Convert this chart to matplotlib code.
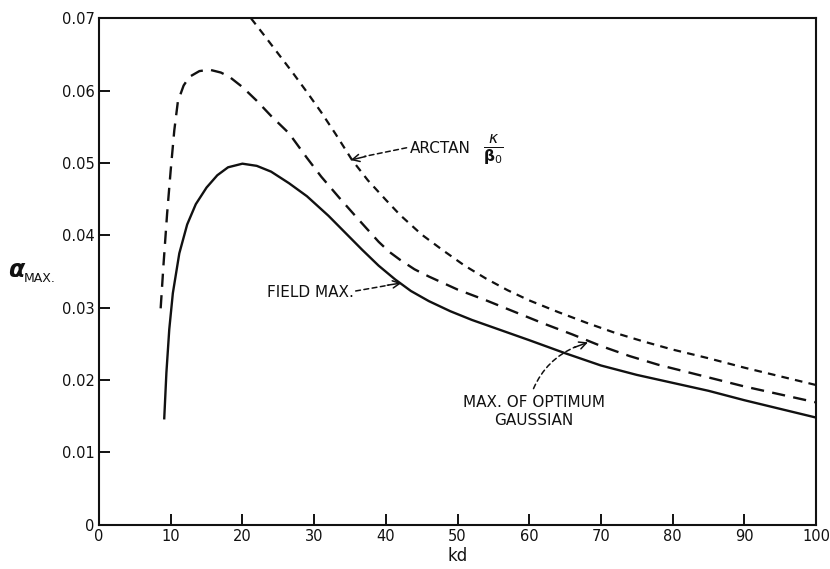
import matplotlib
matplotlib.use("Agg")
import matplotlib.pyplot as plt

# values
FIELD_KD = [9.1, 9.4, 9.8, 10.3, 11.2, 12.3, 13.5, 15.0, 16.5, 18.0, 20.0, 22.0,
            24.0, 26.5, 29.0, 32.0, 34.5, 36.7, 39.0, 41.3, 43.5, 46.0, 49.0,
            52.0, 56.0, 60.0, 65.0, 70.0, 75.0, 80.0, 85.0, 90.0, 95.0, 100.0]
FIELD_ALPHA = [0.0147, 0.0210, 0.0270, 0.0320, 0.0375, 0.0415, 0.0443, 0.0466,
               0.0483, 0.0494, 0.0499, 0.0496, 0.0488, 0.0472, 0.0454, 0.0427,
               0.0402, 0.0380, 0.0358, 0.0339, 0.0323, 0.0309, 0.0295, 0.0283,
               0.0269, 0.0255, 0.0237, 0.0220, 0.0207, 0.0196, 0.0185, 0.0172,
               0.0160, 0.0148]

GAUSS_KD = [8.6, 9.0, 9.5, 10.0, 10.5, 11.0, 11.8, 12.6, 14.0, 15.4, 17.0, 18.2,
            20.0, 22.0, 24.0, 26.5, 29.0, 31.0, 33.5, 36.0, 39.0, 40.5, 42.0,
            44.0, 46.0, 50.0, 54.0, 58.0, 62.0, 66.0, 70.0, 74.0, 78.0, 82.0,
            86.0, 90.0, 95.0, 100.0]
GAUSS_ALPHA = [0.0299, 0.0360, 0.0430, 0.0490, 0.0545, 0.0585, 0.0607, 0.0619,
               0.0627, 0.0629, 0.0625, 0.0619, 0.0605, 0.0586, 0.0565, 0.0541,
               0.0507, 0.0481, 0.0452, 0.0424, 0.0391, 0.0377, 0.0366, 0.0353,
               0.0343, 0.0325, 0.0310, 0.0294, 0.0278, 0.0263, 0.0247, 0.0233,
               0.0221, 0.0211, 0.0201, 0.0191, 0.0180, 0.0169]

ARCTAN_KD = [21.2, 23.0, 25.0, 27.0, 29.0, 31.0, 33.0, 35.3, 37.5, 40.0, 42.0,
             45.0, 48.0, 51.0, 54.0, 57.0, 60.0, 64.0, 68.0, 72.0, 76.0, 80.0,
             85.0, 90.0, 95.0, 100.0]
ARCTAN_ALPHA = [0.0700, 0.0677, 0.0651, 0.0625, 0.0598, 0.0570, 0.0540, 0.0504,
                0.0476, 0.0449, 0.0428, 0.0401, 0.0379, 0.0358, 0.0340, 0.0324,
                0.0310, 0.0294, 0.0279, 0.0265, 0.0253, 0.0242, 0.0230, 0.0217,
                0.0205, 0.0193]

X_TICKS = [0, 10, 20, 30, 40, 50, 60, 70, 80, 90, 100]
Y_TICKS = [0, 0.01, 0.02, 0.03, 0.04, 0.05, 0.06, 0.07]
Y_TICK_LABELS = ["0", "0.01", "0.02", "0.03", "0.04", "0.05", "0.06", "0.07"]

plt.rcParams["font.family"] = "DejaVu Sans"
plt.rcParams["lines.scale_dashes"] = False

fig = plt.figure(figsize=(8.3, 5.69), dpi=100)
ax = fig.add_axes([99 / 830, 44.4 / 569, 717 / 830, 506.3 / 569])

ink = "#111111"
ax.plot(FIELD_KD, FIELD_ALPHA, color=ink, lw=1.7)
ax.plot(GAUSS_KD, GAUSS_ALPHA, color=ink, lw=1.7, dashes=(9.5, 6))
ax.plot(ARCTAN_KD, ARCTAN_ALPHA, color=ink, lw=1.6, dashes=(5.5, 4.5))

ax.set_xlim(0, 100)
ax.set_ylim(0, 0.07)
ax.set_xticks(X_TICKS)
ax.set_yticks(Y_TICKS)
ax.set_yticklabels(Y_TICK_LABELS)
ax.tick_params(direction="in", length=8, width=1.4, labelsize=10.5,
               colors=ink, pad=3)
for sp in ax.spines.values():
    sp.set_linewidth(1.5)
    sp.set_color(ink)

ax.set_xlabel("kd", fontsize=12, color=ink, labelpad=2)

# y label: alpha with MAX. subscript
fig.text(8 / 830, 1 - 270 / 569, "α", fontsize=17, fontweight="bold",
         fontstyle="italic", color=ink, va="center", ha="left")
fig.text(24 / 830, 1 - 279 / 569, "MAX.", fontsize=9, color=ink,
         va="center", ha="left")

dash_arrow = dict(arrowstyle="-", lw=1.1, color=ink, linestyle=(0, (3.5, 2.5)),
                  shrinkA=0, shrinkB=0)
head = dict(arrowstyle="->", lw=1.1, color=ink, shrinkA=0, shrinkB=0,
            mutation_scale=13)

# ARCTAN label
ax.text(43.4, 0.0520, "ARCTAN", fontsize=11, color=ink, va="center", ha="left")
ax.text(55.0, 0.0519, r"$\frac{\kappa}{\mathbf{\beta}_0}$", fontsize=16,
        color=ink, va="center", ha="center")
ax.annotate("", xy=(37.0, 0.0509), xytext=(42.9, 0.0521), arrowprops=dash_arrow)
ax.annotate("", xy=(35.1, 0.0504), xytext=(37.2, 0.0509), arrowprops=head)

# FIELD MAX. label
ax.text(35.6, 0.0321, "FIELD MAX.", fontsize=11, color=ink,
        va="center", ha="right")
ax.annotate("", xy=(40.4, 0.0331), xytext=(35.8, 0.0323), arrowprops=dash_arrow)
ax.annotate("", xy=(42.2, 0.0334), xytext=(40.2, 0.0331), arrowprops=head)

# MAX. OF OPTIMUM GAUSSIAN label
ax.text(60.7, 0.0157, "MAX. OF OPTIMUM\nGAUSSIAN", fontsize=11, color=ink,
        va="center", ha="center", multialignment="center", linespacing=1.25)
curved = dict(dash_arrow, connectionstyle="arc3,rad=-0.2")
ax.annotate("", xy=(66.5, 0.0246), xytext=(60.6, 0.0188), arrowprops=curved)
ax.annotate("", xy=(68.2, 0.0252), xytext=(66.3, 0.0245), arrowprops=head)

fig.savefig("out.png", dpi=100, facecolor="white")
